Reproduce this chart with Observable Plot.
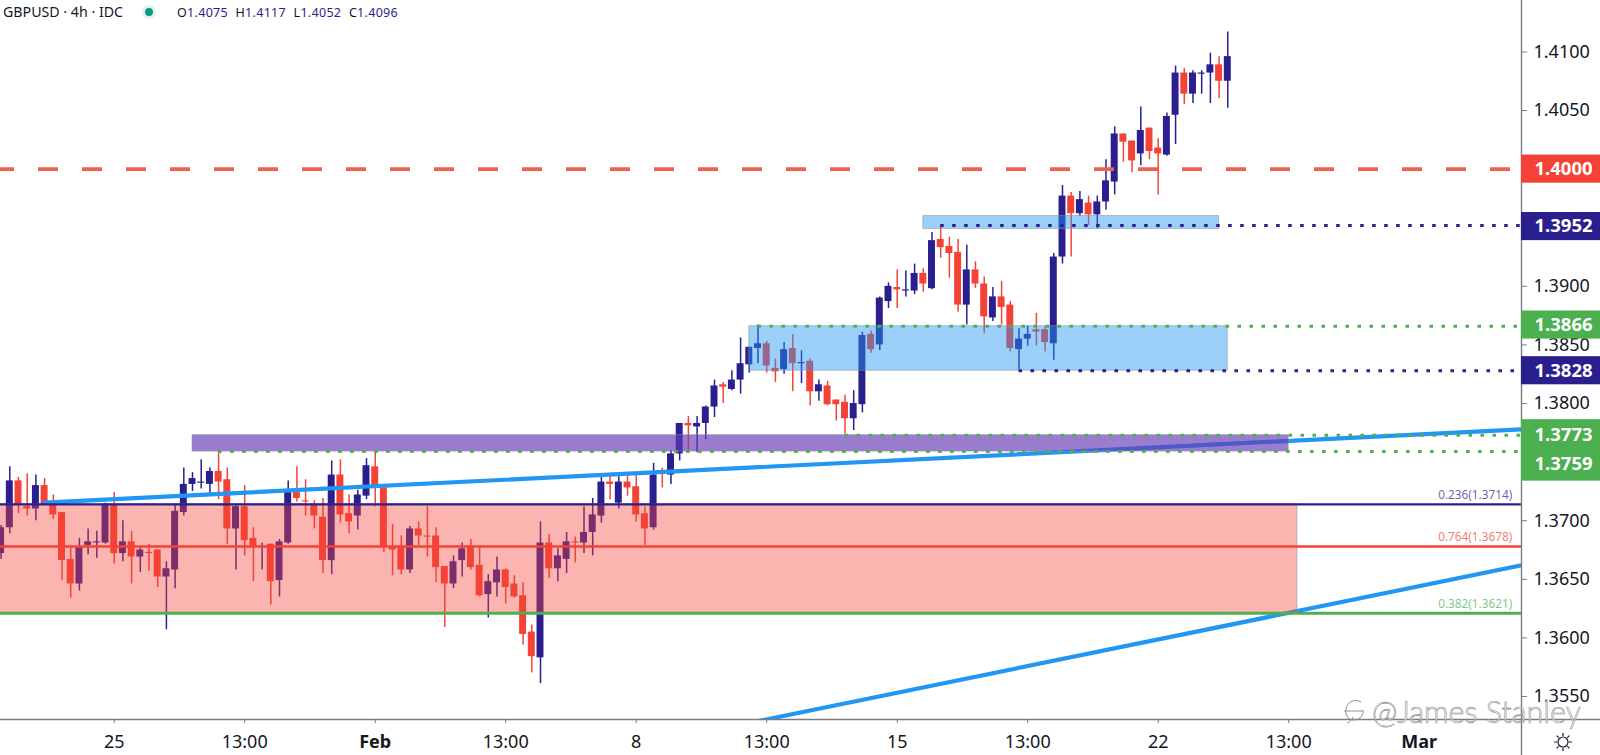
<!DOCTYPE html>
<html>
<head>
<meta charset="utf-8">
<script src="https://cdn.jsdelivr.net/npm/d3@7"></script>
<script src="https://cdn.jsdelivr.net/npm/@observablehq/plot@0.6"></script>
<style>
html,body{margin:0;padding:0;background:#fff;overflow:hidden}
#wrap{position:relative;width:1600px;height:755px}
#legend{position:absolute;left:3px;top:3px;font:14.2px/18px "Noto Sans",sans-serif;color:#131722;white-space:nowrap}
#legend .dot{position:absolute;left:142px;top:5px;width:8px;height:8px;border-radius:50%;background:#089981;box-shadow:0 0 0 3px rgba(8,153,129,.12)}
#legend .ohlc{position:absolute;left:170px;top:1px;font-size:12.5px;letter-spacing:.3px;color:#2a1f8f}
#legend .ohlc b{font-weight:400;color:#131722;margin-left:4px}
#mark{position:absolute;left:1372px;top:692px;font:300 30.5px/38px Lato,sans-serif;color:rgba(255,255,255,.75);-webkit-text-stroke:.6px #8f8f8f;white-space:nowrap}
#logo{position:absolute;left:1341px;top:697px}
#gear{position:absolute;left:1552px;top:731px}
</style>
</head>
<body>
<div id="wrap">
<div id="chart"></div>
<div id="legend">GBPUSD · 4h · IDC<span class="dot"></span><span class="ohlc"><b>O</b>1.4075 <b>H</b>1.4117 <b>L</b>1.4052 <b>C</b>1.4096</span></div>
<svg id="logo" width="26" height="30" viewBox="0 0 26 30" fill="none" stroke="#8f8f8f" stroke-width="1"><path d="M20 5C13 1 6 5 5 12c-1 6 2 11 8 11 6 0 10-5 9-10M3 14h19M6 26c3-1 5-3 6-6"/></svg>
<div id="mark">@James Stanley</div>
<svg id="gear" width="22" height="22" viewBox="0 0 22 22" fill="none" stroke="#131722" stroke-width="1.2"><circle cx="11" cy="11" r="5"/><path d="M11 2v3M11 17v3M2 11h3M17 11h3M4.6 4.6l2.1 2.1M15.3 15.3l2.1 2.1M4.6 17.4l2.1-2.1M15.3 6.7l2.1-2.1"/></svg>
</div>
<script>
const opens = [1.3672,1.3694,1.3734,1.3712,1.3710,1.3730,1.3714,1.3707,1.3667,1.3646,1.3679,1.3681,1.3681,1.3713,1.3672,1.3682,1.3669,1.3673,1.3675,1.3652,1.3658,1.3707,1.3731,1.3732,1.3731,1.3742,1.3735,1.3693,1.3712,1.3685,1.3677,1.3680,1.3649,1.3681,1.3724,1.3717,1.3713,1.3703,1.3666,1.3739,1.3706,1.3704,1.3721,1.3746,1.3728,1.3678,1.3678,1.3658,1.3693,1.3687,1.3687,1.3661,1.3646,1.3666,1.3678,1.3662,1.3637,1.3647,1.3658,1.3646,1.3636,1.3605,1.3583,1.3681,1.3659,1.3667,1.3682,1.3681,1.3690,1.3704,1.3733,1.3715,1.3733,1.3729,1.3706,1.3694,1.3741,1.3739,1.3757,1.3783,1.3780,1.3783,1.3797,1.3816,1.3812,1.3820,1.3833,1.3847,1.3851,1.3830,1.3829,1.3847,1.3834,1.3836,1.3810,1.3815,1.3803,1.3801,1.3787,1.3799,1.3859,1.3850,1.3887,1.3899,1.3896,1.3896,1.3911,1.3898,1.3940,1.3934,1.3929,1.3884,1.3914,1.3902,1.3873,1.3891,1.3884,1.3846,1.3855,1.3863,1.3863,1.3851,1.3925,1.3977,1.3962,1.3971,1.3961,1.3972,1.3989,1.4030,1.4024,1.4013,1.4035,1.4018,1.4012,1.4046,1.4082,1.4064,1.4081,1.4082,1.4089,1.4075];
const highs = [1.3696,1.3746,1.3737,1.3740,1.3739,1.3736,1.3722,1.3707,1.3677,1.3685,1.3693,1.3691,1.3715,1.3724,1.3700,1.3691,1.3677,1.3680,1.3675,1.3665,1.3713,1.3745,1.3741,1.3752,1.3745,1.3760,1.3745,1.3713,1.3730,1.3694,1.3681,1.3680,1.3684,1.3734,1.3746,1.3735,1.3717,1.3719,1.3751,1.3752,1.3722,1.3726,1.3753,1.3760,1.3728,1.3697,1.3687,1.3695,1.3699,1.3712,1.3694,1.3661,1.3670,1.3681,1.3684,1.3677,1.3654,1.3669,1.3659,1.3653,1.3647,1.3611,1.3699,1.3688,1.3676,1.3690,1.3686,1.3712,1.3719,1.3739,1.3739,1.3739,1.3739,1.3739,1.3712,1.3749,1.3745,1.3760,1.3783,1.3789,1.3789,1.3798,1.3820,1.3818,1.3828,1.3856,1.3848,1.3867,1.3853,1.3838,1.3852,1.3859,1.3845,1.3838,1.3820,1.3819,1.3803,1.3807,1.3811,1.3861,1.3862,1.3891,1.3903,1.3914,1.3913,1.3919,1.3915,1.3946,1.3951,1.3942,1.3940,1.3935,1.3921,1.3908,1.3899,1.3904,1.3887,1.3864,1.3866,1.3877,1.3865,1.3928,1.3986,1.3980,1.3981,1.3977,1.3977,1.4008,1.4036,1.4030,1.4024,1.4053,1.4035,1.4026,1.4048,1.4088,1.4086,1.4084,1.4084,1.4099,1.4096,1.4117];
const lows = [1.3667,1.3689,1.3706,1.3704,1.3700,1.3713,1.3701,1.3649,1.3634,1.3640,1.3671,1.3668,1.3680,1.3663,1.3665,1.3646,1.3656,1.3657,1.3643,1.3607,1.3642,1.3704,1.3725,1.3727,1.3722,1.3718,1.3680,1.3658,1.3670,1.3648,1.3658,1.3628,1.3635,1.3680,1.3716,1.3704,1.3693,1.3655,1.3654,1.3698,1.3689,1.3692,1.3718,1.3712,1.3673,1.3653,1.3654,1.3655,1.3679,1.3669,1.3647,1.3609,1.3642,1.3652,1.3658,1.3635,1.3617,1.3635,1.3629,1.3634,1.3594,1.3570,1.3561,1.3651,1.3648,1.3655,1.3664,1.3672,1.3670,1.3698,1.3718,1.3710,1.3721,1.3699,1.3679,1.3692,1.3728,1.3731,1.3751,1.3760,1.3758,1.3769,1.3788,1.3800,1.3811,1.3808,1.3826,1.3834,1.3826,1.3818,1.3825,1.3810,1.3817,1.3798,1.3802,1.3798,1.3785,1.3774,1.3777,1.3792,1.3843,1.3845,1.3881,1.3881,1.3891,1.3893,1.3895,1.3897,1.3924,1.3907,1.3878,1.3867,1.3898,1.3860,1.3870,1.3867,1.3844,1.3829,1.3849,1.3849,1.3844,1.3837,1.3919,1.3925,1.3960,1.3952,1.3949,1.3965,1.3978,1.4006,1.3997,1.4003,1.4008,1.3978,1.4011,1.4021,1.4055,1.4056,1.4064,1.4056,1.4060,1.4052];
const closes = [1.3694,1.3734,1.3714,1.3710,1.3730,1.3714,1.3705,1.3666,1.3646,1.3677,1.3682,1.3682,1.3714,1.3672,1.3682,1.3669,1.3675,1.3672,1.3652,1.3659,1.3708,1.3731,1.3736,1.3733,1.3742,1.3733,1.3693,1.3712,1.3683,1.3677,1.3678,1.3648,1.3682,1.3726,1.3719,1.3716,1.3704,1.3666,1.3739,1.3705,1.3699,1.3722,1.3747,1.3728,1.3678,1.3675,1.3658,1.3693,1.3687,1.3686,1.3660,1.3646,1.3665,1.3676,1.3660,1.3636,1.3648,1.3658,1.3643,1.3635,1.3603,1.3584,1.3681,1.3659,1.3670,1.3682,1.3681,1.3690,1.3705,1.3733,1.3731,1.3733,1.3728,1.3705,1.3693,1.3739,1.3740,1.3757,1.3783,1.3781,1.3783,1.3797,1.3815,1.3814,1.3820,1.3834,1.3848,1.3851,1.3832,1.3827,1.3846,1.3834,1.3835,1.3810,1.3816,1.3799,1.3799,1.3787,1.3800,1.3858,1.3846,1.3890,1.3900,1.3897,1.3897,1.3911,1.3902,1.3939,1.3933,1.3928,1.3884,1.3914,1.3902,1.3874,1.3891,1.3882,1.3847,1.3855,1.3859,1.3861,1.3852,1.3925,1.3977,1.3962,1.3974,1.3961,1.3972,1.3990,1.4030,1.4023,1.4007,1.4033,1.4015,1.4013,1.4045,1.4082,1.4064,1.4082,1.4082,1.4089,1.4075,1.4096];

const dayTicks = [13, 28, 58, 73, 88, 103, 118, 133, 148];
const dayLabels = ["25", "13:00", "13:00", "8", "13:00", "15", "13:00", "22", "13:00"];
const monthTicks = [43, 163];
const monthLabels = ["Feb", "Mar"];
const priceTicks = [1.355,1.36,1.365,1.37,1.375,1.38,1.385,1.39,1.395,1.40,1.405,1.41];

const fibLevels = [1.3714, 1.3678, 1.3621];
const fibRatios = ["0.236", "0.764", "0.382"];
const fibColors = ["#2a1f8f", "#f44336", "#4caf50"];
const fibWidths = [2.4, 2.6, 3];

const dottedPrices = [1.3952, 1.3866, 1.3828, 1.3773, 1.3759];
const dottedStarts = [108, 87, 117, 97, 25];
const dottedColors = ["#2a1f8f", "#4caf50", "#2a1f8f", "#4caf50", "#4caf50"];

const badgeTexts = ["1.4000", "1.3952", "1.3866", "1.3828", "1.3773", "1.3759"];
const badgeCenters = [1.4000, 1.3951, 1.3867, 1.3828, 1.3773, 1.3748];
const badgeTops = [1.4012, 1.3963, 1.3879, 1.3840, 1.3786, 1.3786];
const badgeBottoms = [1.3988, 1.3939, 1.3855, 1.3816, 1.3734, 1.3734];
const badgeColors = ["#f44336", "#2a1f8f", "#4caf50", "#2a1f8f", "#4caf50", "#4caf50"];

const zoneLeft = [-1, 22, 86, 106];
const zoneRight = [149, 148, 141, 140];
const zoneTop = [1.3714, 1.3773, 1.3866, 1.3960];
const zoneBottom = [1.3621, 1.3759, 1.3828, 1.3949];
const zoneColors = ["#f44336", "#673ab7", "#2196f3", "#2196f3"];
const zoneOpacity = [0.4, 0.66, 0.45, 0.45];

const trendUpperX = [5, 174.8];
const trendUpperY = [1.37155, 1.3778];
const trendLowerX = [85, 174.8];
const trendLowerY = [1.3526, 1.3662];

const xMin = -0.07, xEdge = 174.76, xFar = 184.1;
const yMin = 1.35304, yMax = 1.41439, yFar = 1.3499, yTop = 1.4144;

const candles = opens.map((o, i) => ({i, o, h: highs[i], l: lows[i], c: closes[i], col: closes[i] >= o ? "#2a1f8f" : "#f44336"}));
const zones = zoneLeft.map((l, k) => ({l, r: zoneRight[k], t: zoneTop[k], b: zoneBottom[k], col: zoneColors[k], op: zoneOpacity[k]}));
const fibs = fibLevels.map((p, k) => ({p, col: fibColors[k], w: fibWidths[k], label: `${fibRatios[k]}(${p.toFixed(4)})`}));
const dots = dottedPrices.map((p, k) => ({p, s: dottedStarts[k], col: dottedColors[k]}));
const badges = badgeTexts.map((t, k) => ({t, c: badgeCenters[k], top: badgeTops[k], bot: badgeBottoms[k], col: badgeColors[k]}));
const trendRows = (xs, ys) => xs.map((x, k) => ({x, y: ys[k]}));

const chart = Plot.plot({
  width: 1600, height: 755,
  marginLeft: 0, marginRight: 79, marginTop: 0, marginBottom: 36,
  style: {fontFamily: "'Noto Sans',sans-serif", background: "#fff", overflow: "visible"},
  x: {type: "linear", domain: [xMin, xEdge], axis: null},
  y: {type: "linear", domain: [yMin, yMax], axis: null},
  marks: [
    Plot.ruleX(candles, {x: "i", y1: "l", y2: "h", stroke: d => d.col, strokeWidth: 1.5, clip: "frame"}),
    Plot.rect(candles, {x1: d => d.i - 0.4, x2: d => d.i + 0.4, y1: "o", y2: "c", fill: d => d.col, clip: "frame"}),
    Plot.line(trendRows(trendUpperX, trendUpperY), {x: "x", y: "y", stroke: "#2196f3", strokeWidth: 4.2, clip: "frame"}),
    Plot.line(trendRows(trendLowerX, trendLowerY), {x: "x", y: "y", stroke: "#2196f3", strokeWidth: 4.2, clip: "frame"}),
    ...zones.map(z => Plot.rect([z], {x1: "l", x2: "r", y1: "b", y2: "t", fill: z.col, fillOpacity: z.op, stroke: "#8a8f99", strokeOpacity: 0.55, strokeWidth: 1, clip: "frame"})),
    ...fibs.map(f => Plot.ruleY([f], {y: "p", x1: xMin, x2: xEdge, stroke: f.col, strokeWidth: f.w})),
    Plot.text(fibs, {x: 173.7, y: "p", text: "label", textAnchor: "end", dy: -9, fontSize: 11.8, fill: "col", fillOpacity: 0.72}),
    Plot.ruleY([1.4], {x1: xMin, x2: xEdge, stroke: "#f0604f", strokeWidth: 3.6, strokeDasharray: "20,24", strokeDashoffset: 6}),
    ...dots.map(d => Plot.ruleY([d], {y: "p", x1: "s", x2: xEdge, stroke: d.col, strokeWidth: 3, strokeDasharray: "3.5,8.5"})),
    Plot.ruleX([xEdge], {y1: yTop, y2: yFar, stroke: "#787b86", strokeWidth: 1.4}),
    Plot.ruleY([yMin], {x1: xMin, x2: xFar, stroke: "#787b86", strokeWidth: 1.4}),
    Plot.axisY(priceTicks, {anchor: "right", tickSize: 5, tickPadding: 7, fontSize: 18, stroke: "#787b86", fill: "#131722", tickFormat: d3.format(".4f")}),
    Plot.axisX(dayTicks, {anchor: "bottom", tickSize: 4, tickPadding: 12, fontSize: 18, stroke: "#787b86", fill: "#131722", tickFormat: d => dayLabels[dayTicks.indexOf(d)]}),
    Plot.axisX(monthTicks, {anchor: "bottom", tickSize: 4, tickPadding: 12, fontSize: 18, fontWeight: "bold", stroke: "#787b86", fill: "#131722", tickFormat: d => monthLabels[monthTicks.indexOf(d)]}),
    Plot.rect(badges, {x1: xEdge, x2: xFar, y1: "bot", y2: "top", fill: "col"}),
    Plot.text(badges, {x: xEdge, y: "c", dx: 13, text: "t", textAnchor: "start", fontSize: 18.5, fontWeight: "bold", fill: "#fff"})
  ]
});
document.getElementById("chart").appendChild(chart);
</script>
</body>
</html>
